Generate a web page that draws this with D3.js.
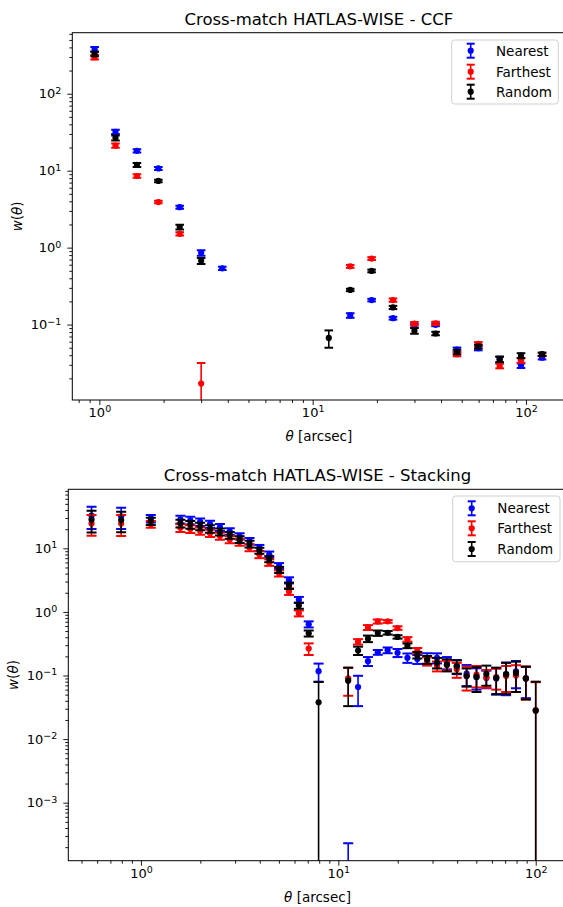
<!DOCTYPE html>
<html>
<head>
<meta charset="utf-8">
<script src="https://cdn.jsdelivr.net/npm/d3@7"></script>
<style>
  html, body { margin: 0; padding: 0; background: #fff; }
  svg { display: block; font-family: "DejaVu Sans", sans-serif; }
</style>
</head>
<body>
<svg id="fig" width="563" height="907"></svg>
<script>
// ---- series definitions ----
const seriesNames = ["Nearest", "Farthest", "Random"];
const seriesColors = ["#0000ff", "#ff0000", "#000000"];

// ---- CCF panel: angular bins [arcsec] and w(theta) with 1-sigma errors ----
const thetaCCF = [0.95, 1.19, 1.5, 1.89, 2.38, 3.0, 3.77, 4.75, 5.98, 7.53, 9.48,
                  11.9, 15.0, 18.9, 23.8, 30.0, 37.7, 47.5, 59.8, 75.3, 94.8, 119];
const nearestCCF    = [379, 32, 18.1, 10.7, 3.36, 0.855, 0.538, null, null, null, null,
                       null, 0.1315, 0.208, 0.121, 0.0964, 0.0994, 0.0473, 0.0493, 0.035, 0.0293, 0.0372];
const nearestCCFErr = [25, 2.0, 0.9, 0.5, 0.15, 0.07, 0.025, null, null, null, null,
                       null, 0.009, 0.008, 0.005, 0.005, 0.004, 0.003, 0.003, 0.003, 0.002, 0.002];
const farthestCCF    = [298, 21.2, 8.53, 3.91, 1.51, 0.0171, null, null, null, null, null,
                        null, 0.571, 0.721, 0.208, 0.103, 0.104, 0.0412, 0.0562, 0.029, 0.0344, 0.041];
const farthestCCFErr = [20, 1.3, 0.45, 0.15, 0.07, 0.0147, null, null, null, null, null,
                        null, 0.025, 0.03, 0.01, 0.005, 0.005, 0.0025, 0.003, 0.002, 0.0025, 0.002];
const randomCCF    = [330, 26.7, 11.9, 7.35, 1.85, 0.673, null, null, null, null, null,
                      0.067, 0.282, 0.498, 0.167, 0.083, 0.0766, 0.0441, 0.0519, 0.0355, 0.0395, 0.0412];
const randomCCFErr = [22, 2.0, 0.7, 0.3, 0.13, 0.06, null, null, null, null, null,
                      0.017, 0.01, 0.02, 0.008, 0.007, 0.004, 0.003, 0.003, 0.003, 0.003, 0.002];

// ---- Stacking panel ----
const thetaStack = [0.562, 0.794, 1.122, 1.585, 1.778, 1.995, 2.239, 2.512, 2.818, 3.162,
                    3.548, 3.981, 4.467, 5.012, 5.623, 6.310, 7.079, 7.943, 8.913, 10.0,
                    11.22, 12.59, 14.13, 15.85, 17.78, 19.95, 22.39, 25.12, 28.18, 31.62,
                    35.48, 39.81, 44.67, 50.12, 56.23, 63.10, 70.79, 79.43, 89.13, 100.0];
const nearestStack = [32.6, 31.8, 29.5, 28.5, 27.5, 26.0, 24.0, 21.5, 18.5, 15.5,
                      13.0, 10.2, 8.0, 5.3, 3.15, 1.55, 0.64, 0.117, null, null,
                      -0.040, 0.066, 0.168, 0.232, 0.25, 0.228, 0.19, 0.181, 0.187, 0.189,
                      0.16, 0.14, 0.107, 0.095, 0.091, 0.09, 0.104, 0.116, 0.09, null];
const nearestStackErr = [12.5, 11.7, 4.0, 4.0, 3.8, 3.5, 3.2, 2.7, 2.2, 1.8,
                         1.5, 1.1, 0.9, 0.55, 0.35, 0.17, 0.07, 0.037, null, null,
                         0.04023, 0.033, 0.027, 0.02, 0.026, 0.033, 0.032, 0.029, 0.037, 0.034,
                         0.035, 0.035, 0.039, 0.035, 0.028, 0.04, 0.055, 0.053, 0.046, null];
const farthestStack = [24.6, 24.5, 24.0, 21.0, 20.2, 18.8, 17.3, 15.6, 13.8, 12.6,
                       10.3, 8.0, 6.0, 4.05, 2.1, 0.95, 0.265, null, null, null,
                       0.09, 0.34, 0.57, 0.708, 0.71, 0.558, 0.371, 0.246, 0.168, 0.141,
                       0.146, 0.125, 0.098, 0.103, 0.093, 0.094, 0.098, 0.1, 0.09, 0.0285];
const farthestStackErr = [8.8, 8.9, 2.9, 3.0, 2.8, 2.5, 2.3, 2.0, 1.8, 1.6,
                          1.3, 1.0, 0.7, 0.45, 0.25, 0.1, 0.055, null, null, null,
                          0.042, 0.033, 0.05, 0.052, 0.035, 0.035, 0.03, 0.025, 0.025, 0.025,
                          0.025, 0.033, 0.04, 0.038, 0.029, 0.034, 0.043, 0.045, 0.048, 0.05];
const randomStack = [28.4, 27.8, 26.8, 24.7, 23.7, 22.2, 20.3, 18.2, 16.1, 13.8,
                     11.7, 9.2, 6.8, 4.6, 2.6, 1.26, 0.46, 0.038, null, null,
                     0.083, 0.247, 0.38, 0.465, 0.47, 0.405, 0.294, 0.21, 0.178, 0.159,
                     0.148, 0.14, 0.098, 0.095, 0.106, 0.092, 0.105, 0.11, 0.09, 0.028];
const randomStackErr = [10.6, 9.9, 3.5, 3.5, 3.3, 3.0, 2.7, 2.3, 2.0, 1.7,
                        1.4, 1.0, 0.75, 0.5, 0.3, 0.14, 0.05, 0.041, null, null,
                        0.05, 0.037, 0.045, 0.045, 0.03, 0.025, 0.025, 0.025, 0.025, 0.03,
                        0.032, 0.033, 0.031, 0.04, 0.037, 0.041, 0.054, 0.055, 0.048, 0.052];

// ---- axis ticks and labels ----
const decadeTicks = [1e-3, 1e-2, 1e-1, 1, 10, 100];
const xAxisLabel = "[arcsec]";
const titles = ["Cross-match HATLAS-WISE - CCF", "Cross-match HATLAS-WISE - Stacking"];

const svg = d3.select("#fig");
svg.append("rect").attr("width", 563).attr("height", 907).attr("fill", "#fff");

function minorTicks(domain) {
  const out = [];
  const lo = Math.floor(Math.log10(domain[0])), hi = Math.ceil(Math.log10(domain[1]));
  for (let e = lo; e <= hi; e++) {
    for (let k = 2; k <= 9; k++) {
      const v = k * Math.pow(10, e);
      if (v >= domain[0] && v <= domain[1]) out.push(v);
    }
  }
  return out;
}

function powLabel(text, d) {
  const e = Math.round(Math.log10(d));
  text.text(null);
  text.append("tspan").text("10");
  text.append("tspan").attr("font-size", "9.5px").attr("dy", "-0.5em")
      .text(e < 0 ? "\u2212" + (-e) : String(e));
}

function drawPanel(opt, idx) {
  const x = d3.scaleLog().domain(opt.xDomain).range([opt.left, opt.right]);
  const y = d3.scaleLog().domain(opt.yDomain).range([opt.bottom, opt.top]);
  const g = svg.append("g");

  const clipId = "clip" + idx;
  g.append("clipPath").attr("id", clipId).append("rect")
    .attr("x", opt.left).attr("y", opt.top)
    .attr("width", opt.right - opt.left).attr("height", opt.bottom - opt.top);

  const plot = g.append("g").attr("clip-path", `url(#${clipId})`);
  const capHalf = opt.capHalf;

  opt.series.forEach((s, si) => {
    const col = seriesColors[si];
    const sg = plot.append("g");
    const pts = opt.theta.map((t, i) => ({ t, v: s.v[i], e: s.e[i] }))
      .filter(d => d.v !== null && d.v !== undefined);
    pts.forEach(d => {
      const px = x(d.t);
      const hi = d.v + d.e, lo = d.v - d.e;
      if (hi <= 0) return;
      const yHi = y(hi);
      const yLo = lo > 0 ? y(lo) : opt.bottom + 20;
      sg.append("line").attr("x1", px).attr("x2", px).attr("y1", yLo).attr("y2", yHi)
        .attr("stroke", col).attr("stroke-width", 1.6);
      sg.append("line").attr("x1", px - capHalf).attr("x2", px + capHalf)
        .attr("y1", yHi).attr("y2", yHi).attr("stroke", col).attr("stroke-width", 2);
      if (lo > 0) {
        sg.append("line").attr("x1", px - capHalf).attr("x2", px + capHalf)
          .attr("y1", yLo).attr("y2", yLo).attr("stroke", col).attr("stroke-width", 2);
      }
      if (d.v > 0) {
        sg.append("circle").attr("cx", px).attr("cy", y(d.v)).attr("r", 3.1).attr("fill", col);
      }
    });
  });

  // axes: major + minor ticks
  const xMaj = decadeTicks.filter(v => v >= opt.xDomain[0] && v <= opt.xDomain[1]);
  const yMaj = decadeTicks.filter(v => v >= opt.yDomain[0] && v <= opt.yDomain[1]);

  const gx = g.append("g").attr("transform", `translate(0,${opt.bottom})`)
    .call(d3.axisBottom(x).tickValues(xMaj).tickSize(5).tickPadding(3).tickSizeOuter(0));
  gx.selectAll("text").each(function(d) { powLabel(d3.select(this), d); });
  const gxm = g.append("g").attr("transform", `translate(0,${opt.bottom})`)
    .call(d3.axisBottom(x).tickValues(minorTicks(opt.xDomain)).tickSize(3).tickFormat("").tickSizeOuter(0));

  const gy = g.append("g").attr("transform", `translate(${opt.left},0)`)
    .call(d3.axisLeft(y).tickValues(yMaj).tickSize(5).tickPadding(6).tickSizeOuter(0));
  gy.selectAll("text").each(function(d) { powLabel(d3.select(this), d); });
  const gym = g.append("g").attr("transform", `translate(${opt.left},0)`)
    .call(d3.axisLeft(y).tickValues(minorTicks(opt.yDomain)).tickSize(3).tickFormat("").tickSizeOuter(0));

  [gx, gxm, gy, gym].forEach(a => {
    a.select(".domain").remove();
    a.selectAll("line").attr("stroke", "#000").attr("stroke-width", 0.9);
    a.selectAll("text").attr("font-family", "DejaVu Sans").attr("font-size", "13px").attr("fill", "#000");
  });

  // spines
  g.append("rect").attr("x", opt.left).attr("y", opt.top)
    .attr("width", opt.right - opt.left).attr("height", opt.bottom - opt.top)
    .attr("fill", "none").attr("stroke", "#000").attr("stroke-width", 1);

  // title
  g.append("text").attr("x", (opt.left + opt.right) / 2).attr("y", opt.titleY)
    .attr("text-anchor", "middle").attr("font-size", "16.5px").attr("fill", "#000")
    .text(titles[idx]);

  // x label
  const xl = g.append("text").attr("x", (opt.left + opt.right) / 2).attr("y", opt.xLabelY)
    .attr("text-anchor", "middle").attr("font-size", "13.5px").attr("fill", "#000");
  xl.append("tspan").attr("font-style", "italic").text("\u03b8");
  xl.append("tspan").text(" " + xAxisLabel);

  // y label
  const yl = g.append("text")
    .attr("transform", `translate(${opt.yLabelX},${(opt.top + opt.bottom) / 2}) rotate(-90)`)
    .attr("text-anchor", "middle").attr("font-size", "13.5px").attr("fill", "#000");
  yl.append("tspan").attr("font-style", "italic").text("w");
  yl.append("tspan").text("(");
  yl.append("tspan").attr("font-style", "italic").text("\u03b8");
  yl.append("tspan").text(")");

  // legend
  const L = opt.legend;
  const lg = g.append("g");
  lg.append("rect").attr("x", L.x0).attr("y", L.y0).attr("width", L.x1 - L.x0).attr("height", L.y1 - L.y0)
    .attr("rx", 3).attr("fill", "#fff").attr("fill-opacity", 0.8)
    .attr("stroke", "#d0d0d0").attr("stroke-width", 1);
  seriesNames.forEach((name, i) => {
    const cy = L.rows[i], col = seriesColors[i];
    lg.append("line").attr("x1", L.mx).attr("x2", L.mx).attr("y1", cy - 7).attr("y2", cy + 7)
      .attr("stroke", col).attr("stroke-width", 1.6);
    [cy - 7, cy + 7].forEach(yy => lg.append("line").attr("x1", L.mx - 4).attr("x2", L.mx + 4)
      .attr("y1", yy).attr("y2", yy).attr("stroke", col).attr("stroke-width", 2));
    lg.append("circle").attr("cx", L.mx).attr("cy", cy).attr("r", 3.1).attr("fill", col);
    lg.append("text").attr("x", L.tx).attr("y", cy + 5).attr("font-size", "13.5px").attr("fill", "#000")
      .text(name);
  });
}

drawPanel({
  theta: thetaCCF,
  series: [
    { v: nearestCCF, e: nearestCCFErr },
    { v: farthestCCF, e: farthestCCFErr },
    { v: randomCCF, e: randomCCFErr }
  ],
  xDomain: [Math.pow(10, -0.127), Math.pow(10, 2.185)],
  yDomain: [Math.pow(10, -1.98), Math.pow(10, 2.793)],
  left: 72.3, right: 565.4, top: 32.7, bottom: 400,
  capHalf: 4.3,
  titleY: 25, xLabelY: 441, yLabelX: 22,
  legend: { x0: 451.7, x1: 558.3, y0: 40, y1: 104, rows: [50.7, 71.7, 91.7], mx: 470.7, tx: 496 }
}, 0);

drawPanel({
  theta: thetaStack,
  series: [
    { v: nearestStack, e: nearestStackErr },
    { v: farthestStack, e: farthestStackErr },
    { v: randomStack, e: randomStackErr }
  ],
  xDomain: [Math.pow(10, -0.368), Math.pow(10, 2.157)],
  yDomain: [Math.pow(10, -3.912), Math.pow(10, 1.928)],
  left: 68.3, right: 566.7, top: 489.3, bottom: 860.7,
  capHalf: 5,
  titleY: 481, xLabelY: 902, yLabelX: 17.7,
  legend: { x0: 452.7, x1: 560, y0: 496, y1: 561.7, rows: [508.3, 528.3, 549], mx: 471.7, tx: 497.3 }
}, 1);
</script>
</body>
</html>
